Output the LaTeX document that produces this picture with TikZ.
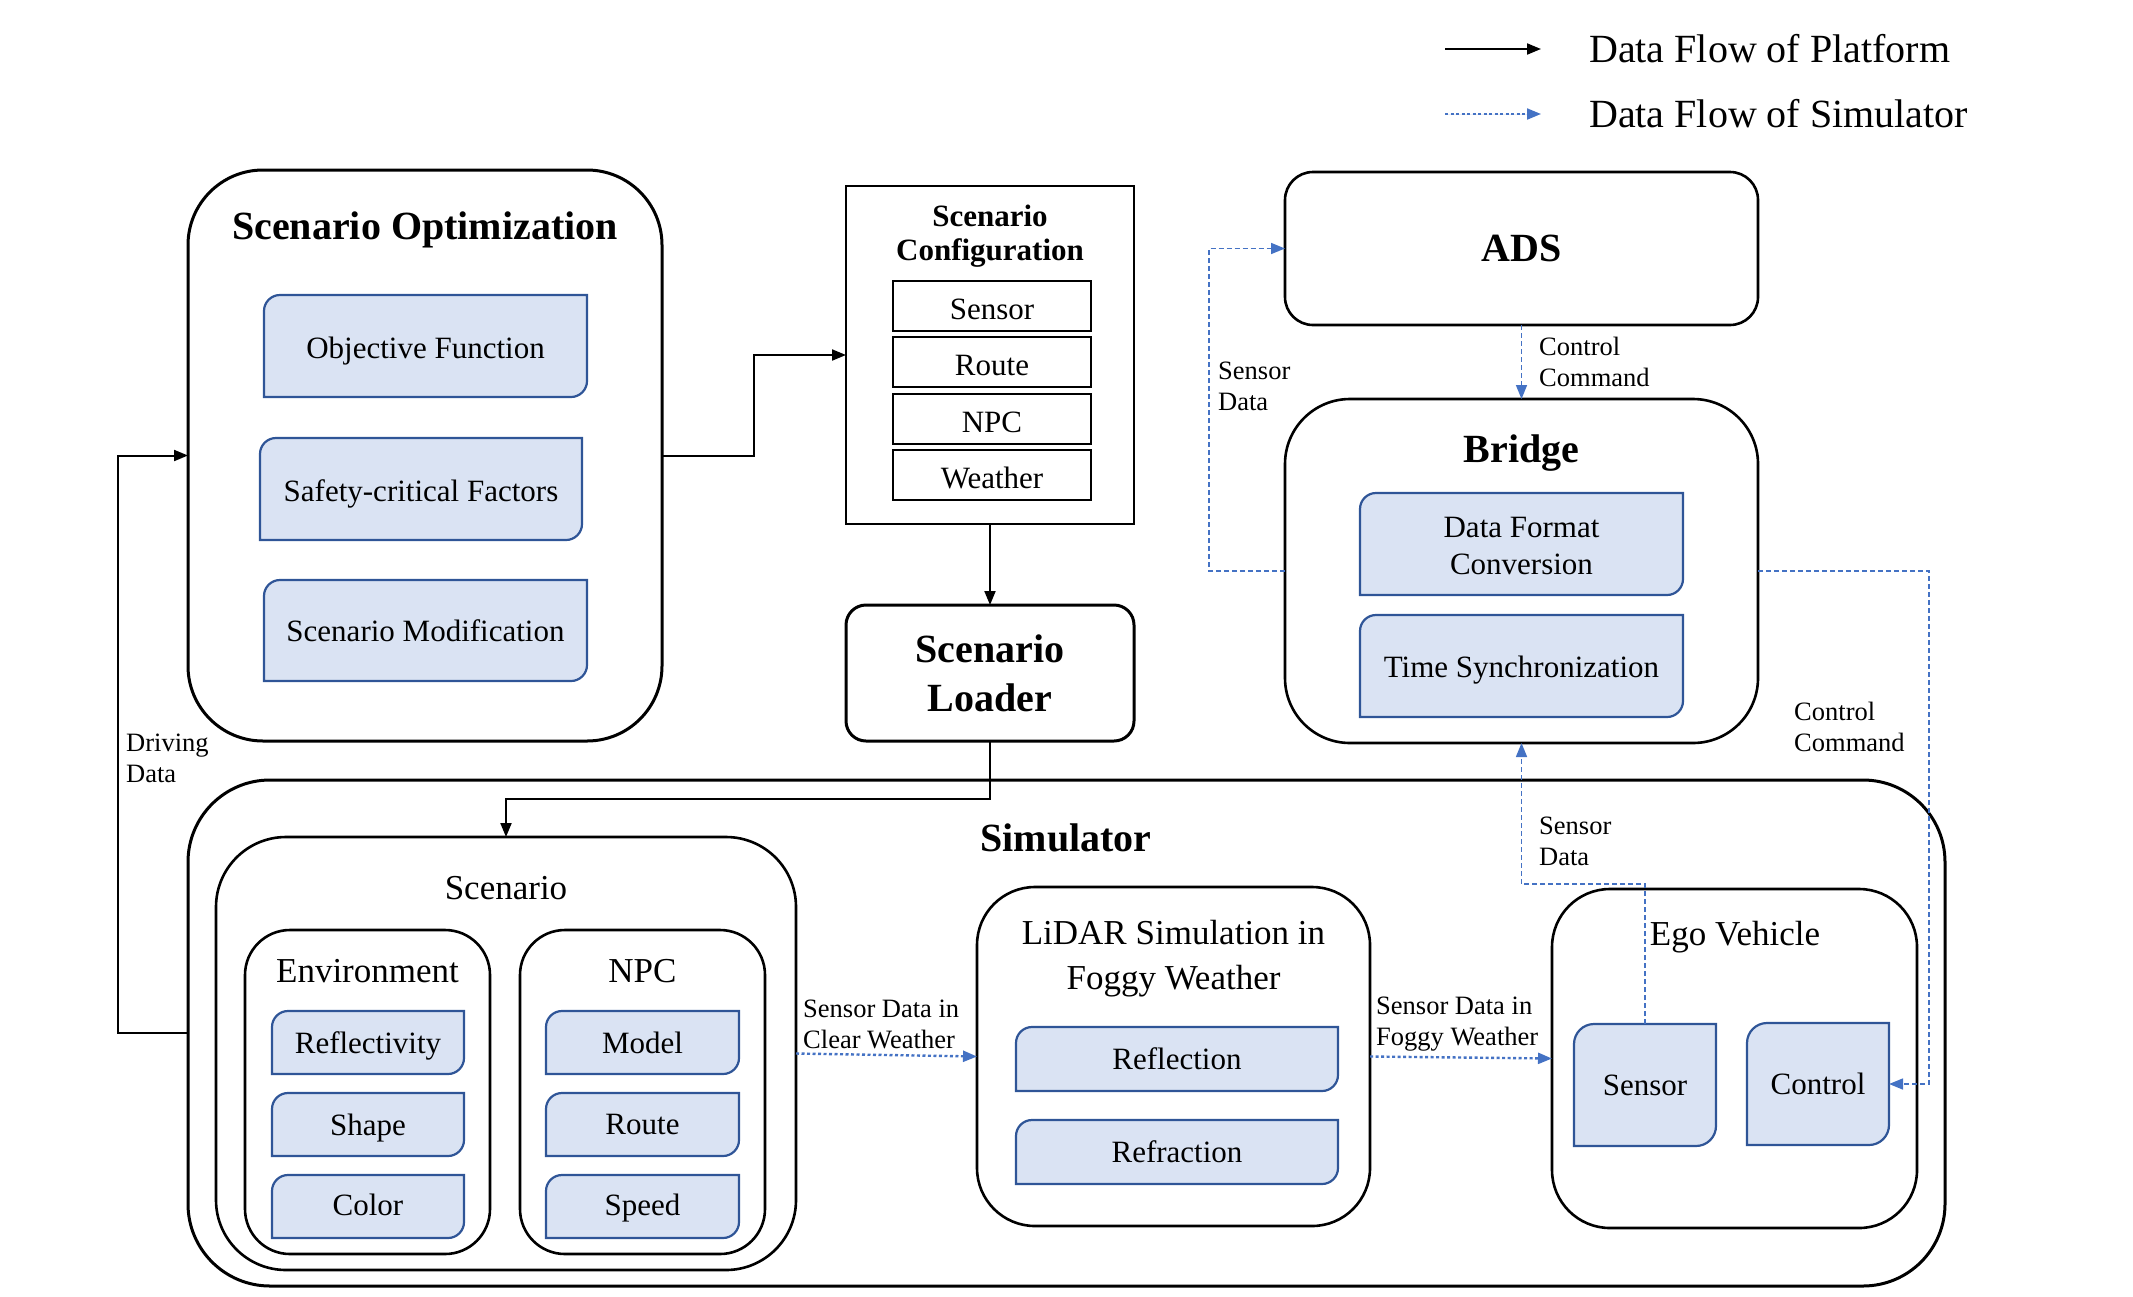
\documentclass[tikz,border=0pt]{standalone}
\usepackage{fontspec}
\setmainfont{Liberation Serif}
\usetikzlibrary{arrows.meta}
\pgfdeclarelayer{background}
\pgfsetlayers{background,main}
\definecolor{bfill}{HTML}{DAE3F3}
\definecolor{bline}{HTML}{2F5597}
\definecolor{flow}{HTML}{4472C4}
\newcommand\fT{\fontsize{40}{46}\selectfont\bfseries}
\newcommand\fM{\fontsize{35}{45}\selectfont}
\newcommand\fB{\fontsize{31}{37}\selectfont}
\newcommand\fC{\fontsize{31}{34}\selectfont\bfseries}
\newcommand\fS{\fontsize{26.5}{31}\selectfont}
\newcommand\fL{\fontsize{40}{46}\selectfont}
\newcommand\bbout[2]{%
\begin{pgfonlayer}{background}
\path[bbline] (#1.south west) -- ([yshift=-#2]#1.north west) arc[start angle=180,end angle=90,radius=#2] -- (#1.north east) -- ([yshift=#2]#1.south east) arc[start angle=0,end angle=-90,radius=#2] -- cycle;
\end{pgfonlayer}}
\tikzset{
 obox/.style={draw=black, line width=3pt, rectangle, inner sep=0pt, outer sep=0pt},
 sbox/.style={draw=black, line width=2.2pt, rectangle, inner sep=0pt, outer sep=0pt, font=\fB, text height=34pt, text depth=7pt},
 bnode/.style={rectangle, inner sep=0pt, outer sep=0pt, align=center, font=\fB},
 th/.style={text height=#1, text depth=7pt},
 bbline/.style={fill=bfill, draw=bline, line width=2.2pt},
 plat/.style={draw=black, line width=2pt, -{Triangle[length=14pt,width=11pt]}},
 simd/.style={draw=flow, line width=1.6pt, dash pattern=on 5pt off 3pt, -{Triangle[length=14pt,width=11pt]}},
 simdot/.style={draw=flow, line width=2.4pt, dash pattern=on 3pt off 2.5pt, -{Triangle[length=14pt,width=11pt]}},
 lbl/.style={font=\fS, align=left, anchor=west, inner sep=0pt},
 ttl/.style={font=\fT, inner sep=0pt},
 mttl/.style={font=\fM, inner sep=0pt, align=center},
}
\begin{document}
\begin{tikzpicture}[x=1pt,y=-1pt]
\useasboundingbox (0,0) rectangle (2133,1296);

% legend
\coordinate (l1a) at (1445,49); \coordinate (l1b) at (1541,49);
\draw[plat] (l1a) -- (l1b);
\node[anchor=west, font=\fL, inner sep=0pt] (l1t) at (1589,49) {Data Flow of Platform};
\coordinate (l2a) at (1445,114); \coordinate (l2b) at (1541,114);
\draw[draw=flow, line width=2pt, dash pattern=on 3pt off 2.5pt, -{Triangle[length=14pt,width=11pt]}, fill=flow] (l2a) -- (l2b);
\node[anchor=west, font=\fL, inner sep=0pt] (l2t) at (1589,114) {Data Flow of Simulator};

% Scenario Optimization
\node[obox, minimum width=474pt, minimum height=571pt, rounded corners=75pt] (so) at (425,455.5) {};
\node[ttl] (sot) at (425,230) {Scenario Optimization};
\node[bnode, th=32pt, minimum width=323pt, minimum height=102pt] (obj) at (425.5,346) {Objective Function};
\node[bnode, th=32pt, minimum width=322pt, minimum height=102pt] (saf) at (421,489) {Safety-critical Factors};
\node[bnode, minimum width=323pt, minimum height=101pt] (mod) at (425.5,630.5) {Scenario Modification};

% Scenario Configuration
\node[obox, line width=2.6pt, minimum width=288pt, minimum height=338pt] (cfg) at (990,355) {};
\node[font=\fC, align=center, inner sep=0pt] (cfgt) at (990,236) {Scenario\\Configuration};
\node[sbox, minimum width=198pt, minimum height=50pt] (csen) at (992,306) {Sensor};
\node[sbox, minimum width=198pt, minimum height=50pt] (crou) at (992,362) {Route};
\node[sbox, minimum width=198pt, minimum height=50pt] (cnpc) at (992,419) {NPC};
\node[sbox, minimum width=198pt, minimum height=50pt] (cwea) at (992,475) {Weather};

% Scenario Loader
\node[obox, minimum width=288pt, minimum height=136pt, rounded corners=20pt, font=\fontsize{40}{49}\selectfont\bfseries, align=center] (ld) at (990,673) {Scenario\\Loader};

% ADS and Bridge
\node[obox, line width=2.6pt, minimum width=473pt, minimum height=153pt, rounded corners=28pt, font=\fT] (ads) at (1521.5,248.5) {ADS};
\node[obox, line width=2.6pt, minimum width=473pt, minimum height=344pt, rounded corners=65pt] (br) at (1521.5,571) {};
\node[ttl] (brt) at (1521.5,453) {Bridge};
\node[bnode, minimum width=323pt, minimum height=102pt] (dfc) at (1521.5,544) {\rule{0pt}{25pt}Data Format\\Conversion};
\node[bnode, th=30pt, minimum width=323pt, minimum height=102pt] (ts) at (1521.5,666) {Time Synchronization};

% Simulator
\node[obox, minimum width=1757pt, minimum height=506pt, rounded corners=82pt] (sim) at (1066.5,1033) {};
\node[ttl] (simt) at (1066,838) {Simulator};
\node[obox, line width=2.6pt, minimum width=580pt, minimum height=433pt, rounded corners=70pt] (scen) at (506,1053.5) {};
\node[mttl] (scent) at (506,888) {Scenario};
\node[obox, line width=2.6pt, minimum width=245pt, minimum height=324pt, rounded corners=45pt] (env) at (367.5,1092) {};
\node[mttl] (envt) at (367.5,971) {Environment};
\node[bnode, th=28pt, minimum width=192pt, minimum height=63pt] (refl) at (368,1042.5) {Reflectivity};
\node[bnode, th=28pt, minimum width=192pt, minimum height=63pt] (shape) at (368,1124.5) {Shape};
\node[bnode, th=25pt, minimum width=192pt, minimum height=63pt] (color) at (368,1206.5) {Color};
\node[obox, line width=2.6pt, minimum width=245pt, minimum height=324pt, rounded corners=45pt] (npc) at (642.5,1092) {};
\node[mttl] (npct) at (642.5,971) {NPC};
\node[bnode, minimum width=193pt, minimum height=63pt] (model) at (642.5,1042.5) {Model};
\node[bnode, minimum width=193pt, minimum height=63pt] (route) at (642.5,1124.5) {Route};
\node[bnode, th=24pt, minimum width=193pt, minimum height=63pt] (speed) at (642.5,1206.5) {Speed};

\node[obox, line width=2.6pt, minimum width=393pt, minimum height=339pt, rounded corners=58pt] (lid) at (1173.5,1056.5) {};
\node[mttl] (lidt) at (1173.5,959) {LiDAR Simulation in\\Foggy Weather};
\node[bnode, minimum width=322pt, minimum height=64pt] (reflc) at (1177,1059) {Reflection};
\node[bnode, minimum width=322pt, minimum height=64pt] (refr) at (1177,1152) {Refraction};

\node[obox, line width=2.6pt, minimum width=365pt, minimum height=339pt, rounded corners=58pt] (ego) at (1734.5,1058.5) {};
\node[mttl] (egot) at (1735,937) {Ego Vehicle};
\node[bnode, minimum width=142pt, minimum height=122pt] (esen) at (1645,1085) {Sensor};
\node[bnode, minimum width=142pt, minimum height=122pt] (ectl) at (1818,1084) {Control};

\foreach \n in {obj,saf,mod,dfc,ts,refl,shape,color,model,route,speed,reflc,refr} {\bbout{\n}{16pt}}
\bbout{esen}{20pt}
\bbout{ectl}{20pt}

% platform flows
\draw[plat] (so.east) -- ++(92,0) |- (cfg.west);
\draw[plat] (cfg.south) -- (ld.north);
\draw[plat] (ld.south) -- ++(0,58) -| (scen.north);
\coordinate (dd) at (118,1033);
\draw[plat] (sim.west) -- (dd) |- (so.west);
\node[lbl] (ddl) at (126,758) {Driving\\Data};

% simulator flows
\draw[simd] (ads.south) -- (br.north);
\node[lbl] (ccl1) at (1539,362) {Control\\Command};
\draw[simd] (br.west) -- ++(-76,0) |- (ads.west);
\node[lbl] (sdl1) at (1218,386) {Sensor\\Data};
\draw[simd] (br.east) -- ++(171,0) |- (ectl.east);
\node[lbl] (ccl2) at (1794,727) {Control\\Command};
\draw[simd] (esen.north) -- ++(0,-140) -| (br.south);
\node[lbl] (sdl2) at (1539,841) {Sensor\\Data};
\draw[simdot] (scen.east) -- (lid.west);
\node[lbl] (cwl) at (803,1024) {Sensor Data in\\Clear Weather};
\draw[simdot] (lid.east) -- (ego.west);
\node[lbl] (fwl) at (1376,1024) {Sensor Data in\\Foggy Weather};
\end{tikzpicture}
\end{document}
